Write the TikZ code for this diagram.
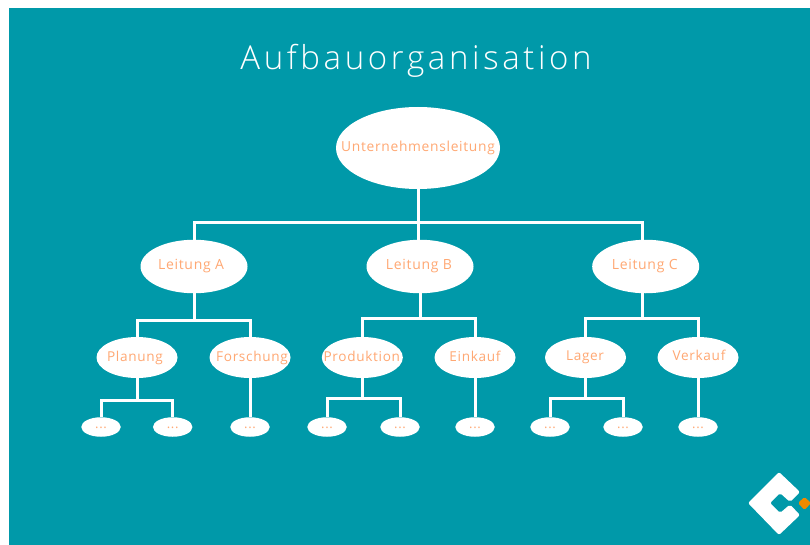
\documentclass[tikz,border=0pt]{standalone}
\usepackage{fontspec}
\setmainfont{Open Sans}[LetterSpace=5]
\newfontfamily\titlefont{Open Sans Light}[LetterSpace=11]
\usetikzlibrary{shapes.geometric}
\definecolor{teal}{HTML}{0099A9}
\definecolor{peach}{HTML}{FFA873}
\definecolor{logoorange}{HTML}{EE8A00}
% #1 horizontal shift, #2 baseline drop below the ellipse centre, #3 text
\newcommand{\lbl}[3]{\makebox[0pt][c]{\kern #1\smash{\raisebox{-#2}{#3}}}}
\newcommand{\dotlbl}{\makebox[0pt][c]{\smash{\raisebox{-1.5pt}{...}}}}
\tikzset{
  x=1pt,y=-1pt,
  oval/.style={ellipse,fill=white,inner sep=0pt,text=peach},
  topbox/.style={oval,minimum width=164pt,minimum height=82pt,font=\fontsize{13.8}{16}\selectfont},
  midbox/.style={oval,minimum width=107pt,minimum height=53.5pt,font=\fontsize{14}{16}\selectfont},
  lowbox/.style={oval,minimum width=81pt,minimum height=41pt,font=\fontsize{13.6}{16}\selectfont},
  leafbox/.style={oval,minimum width=39.5pt,minimum height=19.5pt,font=\fontsize{13}{14}\selectfont},
  link/.style={draw=white,line width=3pt,line cap=butt,line join=miter},
}
\begin{document}
\begin{tikzpicture}
\useasboundingbox (0,0) rectangle (810,545);
\fill[white] (0,0) rectangle (810,545);
\fill[teal] (9,8) rectangle (810,545);
\node[text=white,font=\titlefont\fontsize{33}{38}\selectfont,inner sep=0pt] (title) at (416,61) {Aufbauorganisation};

\node[topbox] (top) at (418,148) {\lbl{0pt}{4pt}{Unternehmensleitung}};
\node[midbox] (a) at (194,266.5) {\lbl{-6pt}{2.8pt}{Leitung A}};
\node[midbox] (b) at (420,266.5) {\lbl{-2pt}{2.8pt}{Leitung B}};
\node[midbox] (c) at (645.7,266.5) {\lbl{-2pt}{2.8pt}{Leitung C}};
\node[lowbox] (p) at (137,357.5) {\lbl{-4pt}{4pt}{Planung}};
\node[lowbox] (f) at (250,357.5) {\lbl{4pt}{4pt}{Forschung}};
\node[lowbox] (pr) at (362.3,357.5) {\lbl{-1pt}{4pt}{Produktion}};
\node[lowbox] (e) at (475,357.5) {\lbl{0pt}{4pt}{Einkauf}};
\node[lowbox] (l) at (585.5,357.5) {\lbl{-1pt}{2.5pt}{Lager}};
\node[lowbox] (v) at (698,357.5) {\lbl{2pt}{2.5pt}{Verkauf}};
\node[leafbox] (p1) at (101,427) {\dotlbl};
\node[leafbox] (p2) at (172.7,427) {\dotlbl};
\node[leafbox] (f1) at (250,427) {\dotlbl};
\node[leafbox] (r1) at (327,427) {\dotlbl};
\node[leafbox] (r2) at (400,427) {\dotlbl};
\node[leafbox] (e1) at (475,427) {\dotlbl};
\node[leafbox] (l1) at (550,427) {\dotlbl};
\node[leafbox] (l2) at (623,427) {\dotlbl};
\node[leafbox] (v1) at (698,427) {\dotlbl};

\coordinate (bus0) at (0,222.6);
\coordinate (bus1) at (0,318);
\coordinate (busa) at (0,320);
\coordinate (busp) at (0,400.5);
\coordinate (busr) at (0,398.5);
\coordinate (cdrop) at (642.3,0);

\draw[link] (a.north) -- (a.north|-bus0) -- (cdrop|-bus0) -- (cdrop|-c.north);
\draw[link] (top.south) -- (top.south|-bus0);
\draw[link] (top.south|-bus0) -- (top.south|-b.north);
\draw[link] (p.north) -- (p.north|-busa) -- (f.north|-busa) -- (f.north);
\draw[link] (a.south) -- (a.south|-busa);
\draw[link] (pr.north) -- (pr.north|-bus1) -- (e.north|-bus1) -- (e.north);
\draw[link] (b.south) -- (b.south|-bus1);
\draw[link] (l.north) -- (l.north|-bus1) -- (v.north|-bus1) -- (v.north);
\draw[link] (cdrop|-c.south) -- (cdrop|-bus1);
\draw[link] (p1.north) -- (p1.north|-busp) -- (p2.north|-busp) -- (p2.north);
\draw[link] (p.south) -- (p.south|-busp);
\draw[link] (f.south) -- (f1.north);
\draw[link] (r1.north) -- (r1.north|-busr) -- (r2.north|-busr) -- (r2.north);
\draw[link] (pr.south) -- (pr.south|-busr);
\draw[link] (e.south) -- (e1.north);
\draw[link] (l1.north) -- (l1.north|-busr) -- (l2.north|-busr) -- (l2.north);
\draw[link] (l.south) -- (l.south|-busr);
\draw[link] (v.south) -- (v1.north);

\fill[white,rounded corners=2pt] (748,503) -- (779,472) -- (800,492) -- (790,502) -- (780,493) -- (770,503) -- (780,513) -- (790,504.5) -- (800,515) -- (779,535) -- cycle;
\fill[logoorange,rounded corners=1.5pt] (804.5,497) -- (811,503) -- (804.5,510) -- (798,503) -- cycle;
\end{tikzpicture}
\end{document}
